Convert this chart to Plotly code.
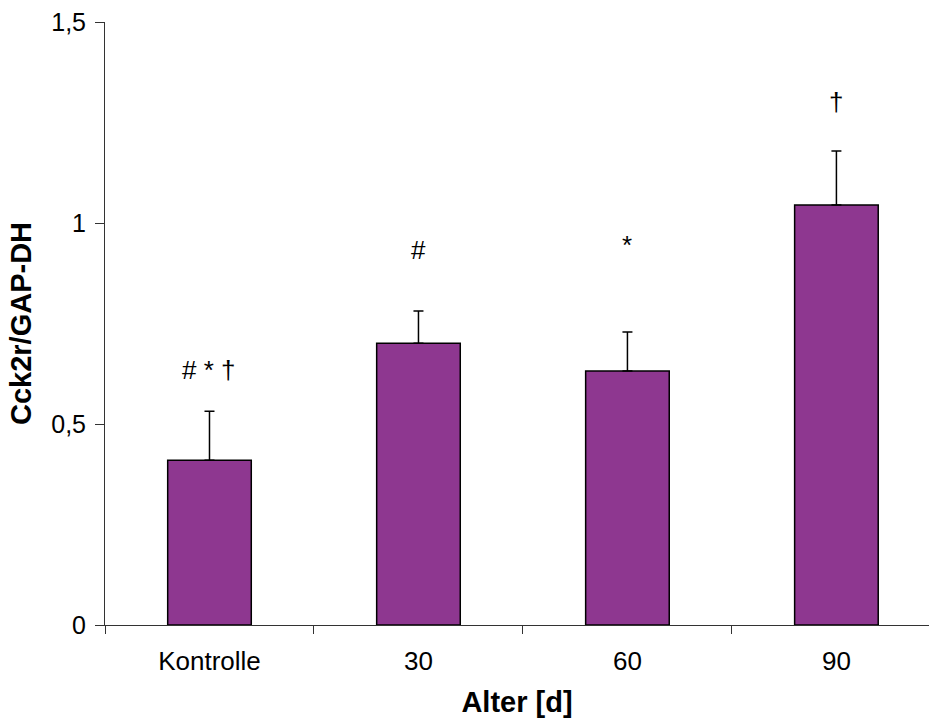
import plotly.graph_objects as go

categories = ["Kontrolle", "30", "60", "90"]
values = [0.41, 0.701, 0.632, 1.045]
errors = [0.122, 0.080, 0.097, 0.134]
sig_labels = ["# * \u2020", "#", "*", "\u2020"]
sig_y = [0.634, 0.933, 0.945, 1.30]

FONT = "Liberation Sans, Arial, sans-serif"

fig = go.Figure()
fig.add_trace(go.Bar(
    x=categories, y=values, width=0.4,
    marker=dict(color="#8E3790", line=dict(color="black", width=1.5)),
    error_y=dict(type="data", array=errors, symmetric=False, arrayminus=[0]*4,
                 color="black", thickness=1.5, width=5),
))

for i, (lab, yy) in enumerate(zip(sig_labels, sig_y)):
    fig.add_annotation(x=i, y=yy, xref="x", yref="y", text=lab, showarrow=False,
                       font=dict(family=FONT, size=26, color="black"),
                       xanchor="center", yanchor="middle")

fig.update_layout(
    width=929, height=718,
    margin=dict(l=105, r=0, t=22, b=93),
    paper_bgcolor="white", plot_bgcolor="white",
    separators=",.",
    showlegend=False,
    font=dict(family=FONT, size=25, color="black"),
)
fig.update_xaxes(
    type="category", range=[-0.5, 3.443],
    tickson="boundaries", ticks="outside", ticklen=8, tickwidth=1, tickcolor="#333",
    showline=True, linecolor="#333", linewidth=1, showgrid=False,
    tickfont=dict(family=FONT, size=26), ticklabelstandoff=13,
    title=dict(text="<b>Alter [d]</b>", font=dict(family=FONT, size=29), standoff=20),
)
fig.update_yaxes(
    range=[0, 1.5], tickvals=[0, 0.5, 1, 1.5],
    ticks="outside", ticklen=9, tickwidth=1, tickcolor="#333",
    showline=True, linecolor="#333", linewidth=1, showgrid=False, zeroline=False,
    tickfont=dict(family=FONT, size=25), ticklabelstandoff=4,
    title=dict(text="<b>Cck2r/GAP-DH</b>", font=dict(family=FONT, size=29), standoff=11),
)

fig.write_html("out.html", config={"displayModeBar": False},
               post_script="document.body.style.margin='0';")
